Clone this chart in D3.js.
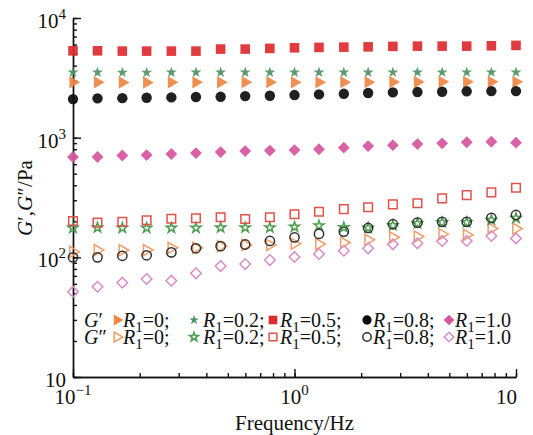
<!DOCTYPE html>
<html>
<head>
<meta charset="utf-8">
<script src="https://cdn.jsdelivr.net/npm/d3@7"></script>
<style>
  body { margin: 0; background: #fff; }
  text { font-family: "Liberation Serif", "Times New Roman", serif; fill: #111; }
</style>
</head>
<body>
<div id="chart"></div>
<script>
const width = 533;
const height = 435;
const margin = {top: 18, right: 17, bottom: 58, left: 73};

// frequency (Hz), 9 points per decade
const frequency = [0.1, 0.129, 0.167, 0.215, 0.278, 0.359, 0.464, 0.599, 0.774, 1,
  1.29, 1.67, 2.15, 2.78, 3.59, 4.64, 5.99, 7.74, 10];

// storage modulus G' (Pa)
const gp_R0  = [2900, 2900, 2890, 2890, 2900, 2900, 2900, 2910, 2910, 2900, 2900, 2910, 2910, 2920, 2920, 2930, 2930, 2930, 2930];
const gp_R02 = [3510, 3510, 3500, 3500, 3510, 3510, 3510, 3510, 3510, 3510, 3510, 3510, 3510, 3520, 3520, 3520, 3520, 3520, 3520];
const gp_R05 = [5320, 5320, 5290, 5290, 5290, 5290, 5500, 5500, 5570, 5640, 5680, 5710, 5740, 5790, 5820, 5820, 5820, 5860, 5900];
const gp_R08 = [2100, 2130, 2140, 2155, 2170, 2185, 2195, 2225, 2240, 2270, 2300, 2325, 2360, 2390, 2405, 2420, 2440, 2450, 2450];
const gp_R10 = [689, 689, 709, 715, 730, 743, 758, 773, 780, 788, 800, 825, 850, 866, 884, 896, 915, 925, 908];

// loss modulus G'' (Pa)
const gpp_R0  = [111, 115, 115, 115, 120, 120, 124, 127, 127, 130, 129, 133, 140, 147, 149, 156, 154, 174, 174];
const gpp_R02 = [176, 177, 176, 176, 176, 176, 177, 177, 177, 180, 184, 178, 176, 185, 192, 196, 196, 205, 213];
const gpp_R05 = [201, 195, 198, 204, 210, 212, 216, 209, 216, 229, 240, 253, 262, 277, 283, 311, 331, 349, 381];
const gpp_R08 = [100, 100, 103, 104, 110, 119, 124, 128, 137, 147, 157, 164, 176, 189, 195, 198, 198, 214, 226];
const gpp_R10 = [51.6, 56.8, 61.4, 65.9, 63.8, 73.5, 84.6, 87.9, 94.9, 100.6, 106.6, 113.5, 118.9, 128.5, 131, 137, 137, 150.7, 144];

const ratios = ["0", "0.2", "0.5", "0.8", "1.0"];
const xMajor = [0.1, 1, 10];
const xMajorLabels = [["10", "\u22121"], ["10", "0"], ["10", ""]];
const yMajor = [10, 100, 1000, 10000];
const yMajorLabels = [["10", ""], ["10", "2"], ["10", "3"], ["10", "4"]];

// marker look per ratio
const markers = [
  {type: d3.symbolTriangle, size: 66, rotate: 90, fill: "#ef8543", open: "#f29c66"},
  {type: d3.symbolStar, size: 38, rotate: 0, fill: "#4f9262", open: "#4c9e50"},
  {type: d3.symbolSquare, size: 92, rotate: 0, fill: "#dd2a2e", open: "#e0524b"},
  {type: d3.symbolCircle, size: 85, rotate: 0, fill: "#0d0d0d", open: "#303030"},
  {type: d3.symbolSquare, size: 70, rotate: 45, fill: "#d6549e", open: "#d88dc6"}
];

const storage = [gp_R0, gp_R02, gp_R05, gp_R08, gp_R10];
const loss = [gpp_R0, gpp_R02, gpp_R05, gpp_R08, gpp_R10];

const svg = d3.select("#chart").append("svg")
  .attr("width", width)
  .attr("height", height);

const x = d3.scaleLog().domain([0.1, 10]).range([margin.left, width - margin.right]);
const y = d3.scaleLog().domain([10, 10000]).range([height - margin.bottom, margin.top]);

// axes: minor ticks then major ticks, all pointing inward
const yAxisG = svg.append("g").attr("transform", "translate(" + margin.left + ",0)");
yAxisG.append("g").call(d3.axisLeft(y).tickValues(y.ticks()).tickSizeInner(-4).tickSizeOuter(0).tickFormat(""));
yAxisG.append("g").call(d3.axisLeft(y).tickValues(yMajor).tickSizeInner(-8).tickSizeOuter(0).tickFormat(""));

const xAxisG = svg.append("g").attr("transform", "translate(0," + (height - margin.bottom) + ")");
xAxisG.append("g").call(d3.axisBottom(x).tickValues(x.ticks()).tickSizeInner(-4).tickSizeOuter(0).tickFormat(""));
xAxisG.append("g").call(d3.axisBottom(x).tickValues(xMajor).tickSizeInner(-8).tickSizeOuter(0).tickFormat(""));

svg.selectAll(".domain, .tick line").attr("stroke", "#111").attr("stroke-width", 1.4);

// tick labels with superscript exponents
yMajor.forEach(function(v, i) {
  const t = svg.append("text")
    .attr("x", margin.left - 7)
    .attr("y", y(v) + 10)
    .attr("text-anchor", "end")
    .style("font-size", "21px");
  t.append("tspan").text(yMajorLabels[i][0]);
  if (yMajorLabels[i][1]) {
    t.append("tspan").attr("dy", -9).style("font-size", "15px").text(yMajorLabels[i][1]);
  }
});

xMajor.forEach(function(v, i) {
  const t = svg.append("text")
    .attr("y", 404)
    .style("font-size", "21px");
  if (xMajorLabels[i][1]) {
    t.attr("x", x(v)).attr("text-anchor", "middle");
  } else {
    t.attr("x", x(v) + 1).attr("text-anchor", "end");
  }
  t.append("tspan").text(xMajorLabels[i][0]);
  if (xMajorLabels[i][1]) {
    t.append("tspan").attr("dy", -9).style("font-size", "15px").text(xMajorLabels[i][1]);
  }
});

// axis titles
svg.append("text")
  .attr("x", (margin.left + width - margin.right) / 2)
  .attr("y", 430)
  .attr("text-anchor", "middle")
  .style("font-size", "21px")
  .text("Frequency/Hz");

const yTitle = svg.append("text")
  .attr("transform", "translate(32,198) rotate(-90)")
  .attr("text-anchor", "middle")
  .style("font-size", "21px");
yTitle.append("tspan").style("font-style", "italic").text("G");
yTitle.append("tspan").text("\u2032,");
yTitle.append("tspan").style("font-style", "italic").text("G");
yTitle.append("tspan").text("\u2033/Pa");

// data points: G' filled, G'' open
storage.forEach(function(vals, i) {
  const m = markers[i];
  svg.append("g").selectAll("path")
    .data(vals)
    .enter()
    .append("path")
    .attr("d", d3.symbol().type(m.type).size(m.size)())
    .attr("transform", function(d, j) { return "translate(" + x(frequency[j]) + "," + y(d) + ") rotate(" + m.rotate + ")"; })
    .attr("fill", m.fill)
    .style("opacity", 0.92);
});

loss.forEach(function(vals, i) {
  const m = markers[i];
  svg.append("g").selectAll("path")
    .data(vals)
    .enter()
    .append("path")
    .attr("d", d3.symbol().type(m.type).size(m.size * 0.8)())
    .attr("transform", function(d, j) { return "translate(" + x(frequency[j]) + "," + y(d) + ") rotate(" + m.rotate + ")"; })
    .attr("fill", "none")
    .attr("stroke", m.open)
    .attr("stroke-width", 1.5);
});

// legend
const legendRows = [{label: "\u2032", yText: 327, yMark: 320, filled: true},
                    {label: "\u2033", yText: 344, yMark: 337, filled: false}];
const markX = [117, 194, 273, 367, 449];
const textX = [123, 203, 280, 373, 455];

legendRows.forEach(function(row) {
  const g = svg.append("text").attr("x", 84).attr("y", row.yText).style("font-size", "20px");
  g.append("tspan").style("font-style", "italic").text("G");
  g.append("tspan").text(row.label);

  ratios.forEach(function(r, i) {
    const m = markers[i];
    svg.append("path")
      .attr("d", d3.symbol().type(m.type).size(m.size * (row.filled ? 0.8 : 0.65))())
      .attr("transform", "translate(" + markX[i] + "," + row.yMark + ") rotate(" + m.rotate + ")")
      .attr("fill", row.filled ? m.fill : "none")
      .attr("stroke", row.filled ? "none" : m.open)
      .attr("stroke-width", 1.5);

    const t = svg.append("text").attr("x", textX[i]).attr("y", row.yText).style("font-size", "20px");
    t.append("tspan").style("font-style", "italic").text("R");
    t.append("tspan").attr("dy", 5).style("font-size", "15px").text("1");
    t.append("tspan").attr("dy", -5).text("=" + r + (i < ratios.length - 1 ? ";" : ""));
  });
});
</script>
</body>
</html>
